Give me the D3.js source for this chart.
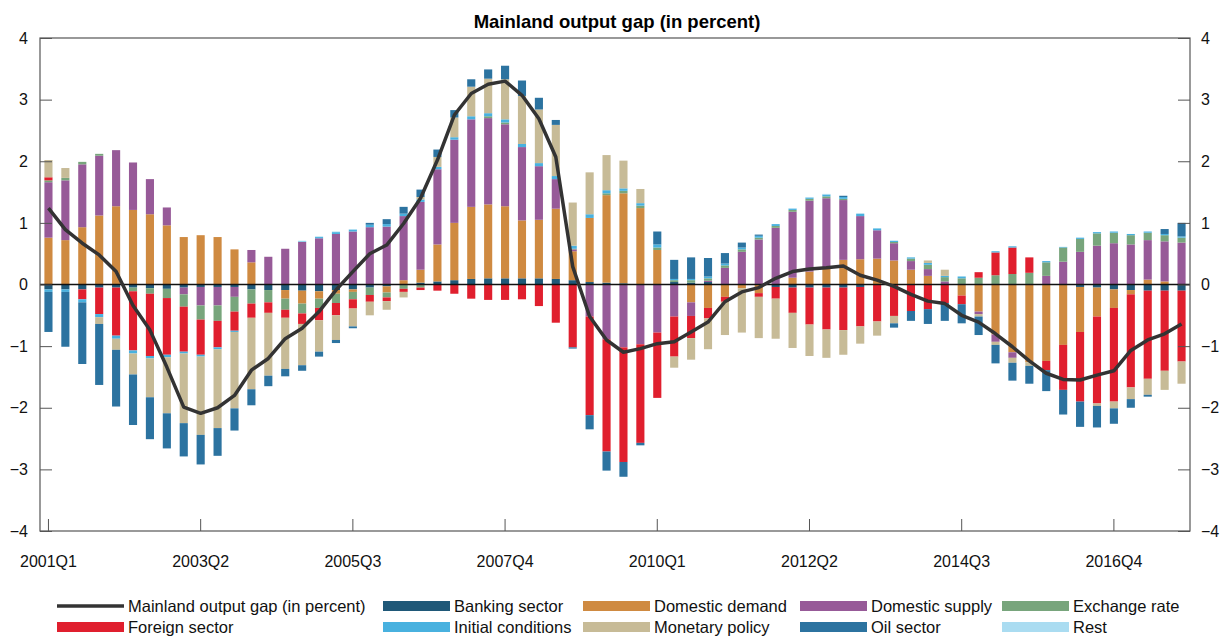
<!DOCTYPE html>
<html>
<head>
<meta charset="utf-8">
<script src="https://cdn.jsdelivr.net/npm/d3@7"></script>
<style>
  body { margin: 0; background: #fff; }
  svg { font-family: "Liberation Sans", Arial, Helvetica, sans-serif; }
</style>
</head>
<body>
<div id="chart"></div>
<script>
// Quarterly decomposition of the mainland output gap, 2001Q1 - 2017Q4
const years = d3.range(2001, 2018);
const quarters = years.flatMap(y => [1, 2, 3, 4].map(q => `${y}Q${q}`));
const tickLabels = ["2001Q1", "2003Q2", "2005Q3", "2007Q4", "2010Q1", "2012Q2", "2014Q3", "2016Q4"];

const outputGap = [1.24, 0.89, 0.67, 0.48, 0.21, -0.34, -0.74, -1.34, -1.99, -2.09, -2.0, -1.80,
  -1.39, -1.20, -0.88, -0.71, -0.44, -0.09, 0.21, 0.50, 0.64, 0.99, 1.40, 2.02,
  2.75, 3.10, 3.25, 3.30, 3.07, 2.69, 2.07, 0.29, -0.52, -0.90, -1.10, -1.04,
  -0.96, -0.93, -0.77, -0.61, -0.28, -0.12, -0.05, 0.10, 0.21, 0.25, 0.27, 0.30,
  0.15, 0.07, -0.03, -0.16, -0.27, -0.31, -0.50, -0.61, -0.80, -1.01, -1.24, -1.44,
  -1.54, -1.55, -1.47, -1.40, -1.07, -0.90, -0.80, -0.64];

const banking = [-0.08, -0.08, -0.08, -0.05, -0.05, -0.05, -0.06, -0.07, -0.05, -0.04, -0.04, -0.04,
  -0.08, -0.09, -0.09, -0.10, -0.11, -0.09, -0.08, -0.05, -0.03, 0, 0.03, 0.05,
  0.07, 0.09, 0.10, 0.10, 0.10, 0.10, 0.09, 0.07, 0.04, 0.03, 0.02, 0,
  0, 0.04, 0.03, 0.04, 0, 0, 0, -0.04, -0.05, -0.05, -0.05, -0.05,
  -0.04, 0, 0, 0, 0, 0, 0, 0, 0, 0, 0, 0,
  0, -0.04, -0.05, -0.08, -0.09, -0.10, -0.10, -0.10];

const domesticDemand = [0.76, 0.72, 0.93, 1.12, 1.27, 1.21, 1.14, 0.96, 0.77, 0.80, 0.77, 0.57,
  0.36, 0, -0.14, -0.21, -0.12, -0.06, -0.04, 0, -0.10, 0.07, 0.21, 0.60,
  0.93, 1.17, 1.20, 1.17, 0.94, 0.95, 1.14, 0.47, 1.04, 1.42, 1.46, 1.24,
  0.56, 0, -0.29, -0.38, -0.20, -0.06, -0.14, 0, 0.11, 0.21, 0.26, 0.40,
  0.41, 0.42, 0.39, 0.24, 0.14, 0, -0.18, -0.44, -0.81, -1.10, -1.26, -1.24,
  -0.98, -0.73, -0.47, -0.30, -0.07, 0.08, 0.05, 0];

const domesticSupply = [0.90, 0.97, 1.02, 0.97, 0.91, 0.77, 0.57, 0.29, -0.11, -0.30, -0.30, -0.16,
  0.20, 0.45, 0.58, 0.69, 0.75, 0.82, 0.86, 0.93, 0.94, 1.04, 1.10, 1.22,
  1.35, 1.42, 1.40, 1.33, 1.19, 0.87, 0.48, 0.03, -0.52, -0.89, -1.02, -0.97,
  -0.78, -0.52, -0.22, 0.02, 0.27, 0.53, 0.73, 0.92, 1.07, 1.15, 1.14, 0.97,
  0.70, 0.46, 0.28, 0.14, 0.11, 0.05, 0, -0.04, -0.12, -0.09, 0, 0.14,
  0.37, 0.53, 0.63, 0.67, 0.65, 0.64, 0.65, 0.68];

const exchangeRate = [0.03, 0.04, 0.04, 0.03, 0, -0.06, -0.09, -0.15, -0.20, -0.23, -0.25, -0.24,
  -0.23, -0.20, -0.18, -0.16, -0.15, -0.15, -0.12, -0.12, -0.08, -0.07, -0.05, 0,
  0, 0, 0.03, 0.03, 0, 0, 0, 0.01, 0, 0.03, 0.04, 0.04,
  0.04, 0.03, 0.04, 0.04, 0.04, 0.04, 0.03, 0.03, 0.03, 0.03, 0.03, 0.02,
  0, 0, 0.02, 0.04, 0.07, 0.07, 0.10, 0.11, 0.15, 0.17, 0.19, 0.22,
  0.23, 0.21, 0.20, 0.17, 0.15, 0.12, 0.10, 0.08];

const foreignSector = [0.05, 0, -0.16, -0.43, -0.78, -0.96, -1.01, -0.92, -0.73, -0.57, -0.43, -0.31,
  -0.23, -0.17, -0.13, -0.17, -0.20, -0.20, -0.15, -0.11, -0.06, -0.05, -0.04, -0.10,
  -0.15, -0.23, -0.25, -0.25, -0.24, -0.35, -0.62, -1.02, -1.60, -1.82, -1.86, -1.60,
  -1.06, -0.65, -0.36, -0.17, -0.08, 0, -0.06, -0.19, -0.41, -0.60, -0.68, -0.69,
  -0.64, -0.60, -0.51, -0.43, -0.40, -0.30, -0.14, 0.09, 0.37, 0.43, 0.25, -0.15,
  -0.73, -1.13, -1.41, -1.52, -1.51, -1.43, -1.30, -1.15];

const initialConditions = [-0.04, -0.04, -0.05, -0.05, -0.05, -0.05, -0.04, -0.04, -0.03, -0.03, -0.03, -0.02,
  0, 0, 0, 0.01, 0.02, 0.03, 0.03, 0.04, 0.04, 0.04, 0.04, 0.04,
  0.04, 0.05, 0.05, 0.05, 0.05, 0.05, 0.05, 0.05, 0.06, 0.05, 0.04, 0.04,
  0.05, 0.02, 0.02, 0.03, 0.03, 0.03, 0.03, 0.03, 0.02, 0.02, 0.03, 0.03,
  0.04, 0.03, 0.02, 0.02, 0.03, 0.02, 0.03, 0, 0.02, 0.02, 0, 0.02,
  0.01, 0.02, 0.02, 0.02, 0.02, 0.02, 0.02, 0.02];

const monetaryPolicy = [0.28, 0.16, 0, -0.11, -0.18, -0.34, -0.63, -0.91, -1.13, -1.27, -1.28, -1.24,
  -1.16, -1.02, -0.83, -0.67, -0.51, -0.40, -0.29, -0.22, -0.14, -0.09, 0.04, 0.16,
  0.32, 0.48, 0.56, 0.65, 0.78, 0.87, 0.83, 0.70, 0.68, 0.57, 0.45, 0.23,
  0, -0.18, -0.35, -0.50, -0.54, -0.72, -0.67, -0.65, -0.57, -0.51, -0.46, -0.40,
  -0.28, -0.23, -0.12, 0, 0.04, 0.10, 0, -0.04, -0.05, -0.08, -0.06, 0,
  0, 0, -0.04, -0.11, -0.19, -0.26, -0.31, -0.36];

const oilSector = [-0.65, -0.89, -1.00, -0.99, -0.92, -0.82, -0.68, -0.57, -0.54, -0.48, -0.45, -0.36,
  -0.26, -0.17, -0.12, -0.09, -0.08, -0.05, -0.03, 0.03, 0.08, 0.11, 0.12, 0.12,
  0.12, 0.12, 0.15, 0.22, 0.25, 0.19, 0.08, -0.02, -0.23, -0.31, -0.24, -0.04,
  0.21, 0.31, 0.35, 0.30, 0.17, 0.08, 0.02, 0, 0, 0, 0, 0.02,
  0, 0, -0.07, -0.16, -0.24, -0.29, -0.31, -0.30, -0.30, -0.29, -0.29, -0.34,
  -0.40, -0.41, -0.35, -0.25, -0.14, -0.03, 0.08, 0.22];

const rest = [0, 0, 0, 0, 0, 0, 0, 0, 0, 0, 0, 0,
  0, 0, 0, 0.01, 0.01, 0.01, 0.01, 0, 0, 0, 0, 0,
  0, 0, 0, 0, 0, 0, 0, 0, 0, 0, 0, 0,
  0, 0, 0, 0, 0, 0, 0, 0, 0.01, 0.01, 0.01, 0,
  0, 0, 0, 0, 0, 0, 0, 0, 0, 0, 0, 0,
  0, 0, 0, 0, 0, 0, 0, 0];

const seriesNames = ["Banking sector", "Domestic demand", "Domestic supply", "Exchange rate",
  "Foreign sector", "Initial conditions", "Monetary policy", "Oil sector", "Rest"];
const seriesValues = [banking, domesticDemand, domesticSupply, exchangeRate,
  foreignSector, initialConditions, monetaryPolicy, oilSector, rest];
const seriesColors = ["#1f5878", "#cf8a41", "#975a98", "#78a57c", "#e01f2e",
  "#48b1df", "#c7bb97", "#2c73a0", "#aadcf1"];

const width = 1227, height = 637;
const margin = {top: 38, right: 37, bottom: 106, left: 40};
const plotW = width - margin.left - margin.right;
const plotH = height - margin.top - margin.bottom;

// table for d3.stack
const table = quarters.map((q, i) => {
  const row = {q: q};
  seriesNames.forEach((name, k) => row[name] = seriesValues[k][i]);
  return row;
});

const svg = d3.select("#chart")
  .append("svg")
  .attr("width", width)
  .attr("height", height);

const g = svg.append("g")
  .attr("transform", `translate(${margin.left},${margin.top})`);

const x = d3.scaleBand()
  .domain(quarters)
  .range([0, plotW])
  .paddingInner(0.52)
  .paddingOuter(0.26);

const y = d3.scaleLinear()
  .domain([-4, 4])
  .range([plotH, 0]);

const stack = d3.stack()
  .keys(seriesNames)
  .offset(d3.stackOffsetDiverging);
const stacked = stack(table);

// Bars
g.selectAll(".series")
  .data(stacked)
  .enter()
  .append("g")
  .attr("class", "series")
  .attr("fill", (d, i) => seriesColors[i])
  .selectAll("rect")
  .data(d => d)
  .enter()
  .append("rect")
  .attr("x", d => x(d.data.q))
  .attr("width", x.bandwidth())
  .attr("y", d => y(Math.max(d[0], d[1])))
  .attr("height", d => Math.abs(y(d[0]) - y(d[1])));

// Zero line
g.append("line")
  .attr("x1", 0)
  .attr("x2", plotW)
  .attr("y1", y(0))
  .attr("y2", y(0))
  .attr("stroke", "#111")
  .attr("stroke-width", 1.5);

// Output gap line
const line = d3.line()
  .x((d, i) => x(quarters[i]) + x.bandwidth() / 2)
  .y(d => y(d));

g.append("path")
  .datum(outputGap)
  .attr("fill", "none")
  .attr("stroke", "#333")
  .attr("stroke-width", 3.5)
  .attr("stroke-linejoin", "round")
  .attr("d", line);

// Frame
g.append("rect")
  .attr("width", plotW)
  .attr("height", plotH)
  .attr("fill", "none")
  .attr("stroke", "#555")
  .attr("stroke-width", 1.2);

const fmt = d => d3.format("")(d);

// Y axes (ticks pointing inward)
const yLeft = g.append("g")
  .call(d3.axisLeft(y).tickValues(d3.range(-4, 5)).tickSize(-12).tickPadding(12).tickFormat(fmt));
const yRight = g.append("g")
  .attr("transform", `translate(${plotW},0)`)
  .call(d3.axisRight(y).tickValues(d3.range(-4, 5)).tickSize(-12).tickPadding(11).tickFormat(fmt));

// X axis
const xAxis = g.append("g")
  .attr("transform", `translate(0,${plotH})`)
  .call(d3.axisBottom(x).tickValues(tickLabels).tickSize(-12).tickPadding(25));

[yLeft, yRight, xAxis].forEach(a => {
  a.select(".domain").remove();
  a.selectAll("line").attr("stroke", "#555");
  a.selectAll("text").attr("fill", "#111").style("font-size", "16px");
});

// Title
svg.append("text")
  .attr("x", margin.left + plotW / 2 + 2)
  .attr("y", 28)
  .attr("text-anchor", "middle")
  .style("font-size", "18.5px")
  .style("font-weight", "bold")
  .text("Mainland output gap (in percent)");

// Legend
const legendItems = [{name: "Mainland output gap (in percent)", line: true}]
  .concat(seriesNames.map((name, i) => ({name: name, color: seriesColors[i]})));
const legendCols = [57, 383, 583, 800, 1002];
const legendRows = [606, 627];

const legend = svg.append("g");
legendItems.forEach((d, i) => {
  const lx = legendCols[i % 5];
  const ly = legendRows[Math.floor(i / 5)];
  if (d.line) {
    legend.append("line")
      .attr("x1", lx).attr("x2", lx + 67)
      .attr("y1", ly).attr("y2", ly)
      .attr("stroke", "#333")
      .attr("stroke-width", 3.5);
  } else {
    legend.append("rect")
      .attr("x", lx).attr("y", ly - 5)
      .attr("width", 67).attr("height", 10)
      .attr("fill", d.color);
  }
  legend.append("text")
    .attr("x", lx + 71)
    .attr("y", ly)
    .attr("dy", "0.35em")
    .style("font-size", "16.5px")
    .attr("fill", "#111")
    .text(d.name);
});
</script>
</body>
</html>
